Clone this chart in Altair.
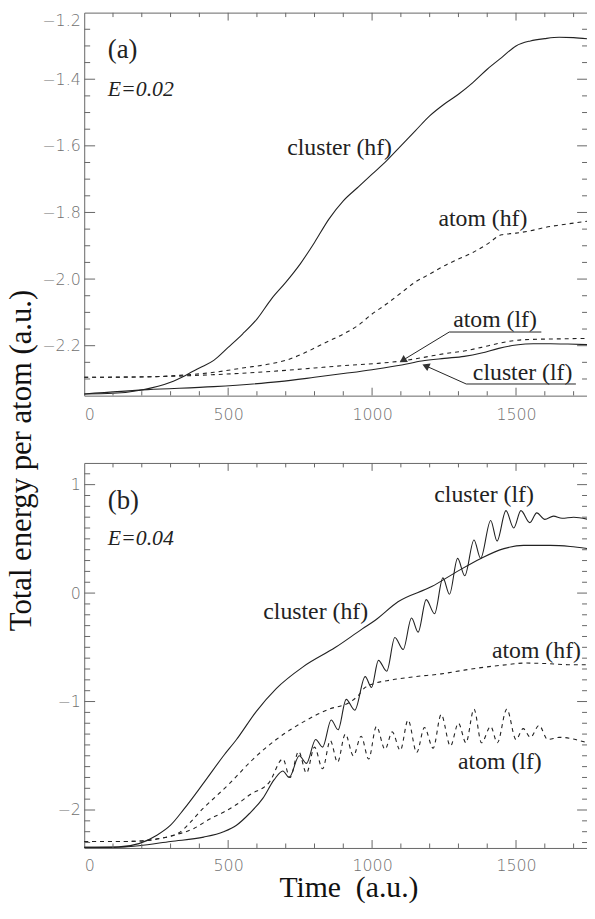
import altair as alt
import pandas as pd

# ------------------------------------------------------------------
# Data (time in a.u., energy per atom in a.u.)
# ------------------------------------------------------------------
# Panel (a): E = 0.02
a_cluster_hf_t = [0, 100, 200, 300, 350, 400, 450, 500, 550, 600, 650, 700, 750, 800, 850, 900,
                  950, 1000, 1050, 1100, 1150, 1200, 1250, 1300, 1350, 1400, 1450, 1500, 1550,
                  1600, 1650, 1700, 1750]
a_cluster_hf_E = [-2.345, -2.343, -2.333, -2.31, -2.29, -2.267, -2.244, -2.205, -2.165, -2.12,
                  -2.06, -2.01, -1.955, -1.89, -1.82, -1.765, -1.725, -1.685, -1.645, -1.60,
                  -1.555, -1.51, -1.475, -1.445, -1.41, -1.37, -1.335, -1.30, -1.285, -1.278,
                  -1.274, -1.275, -1.279]

a_atom_hf_t = [0, 200, 350, 450, 550, 650, 700, 760, 830, 900, 950, 1000, 1050, 1100, 1150, 1200,
               1260, 1300, 1350, 1400, 1450, 1500, 1550, 1600, 1650, 1700, 1750]
a_atom_hf_E = [-2.295, -2.294, -2.288, -2.28, -2.267, -2.254, -2.244, -2.224, -2.194, -2.165,
               -2.14, -2.105, -2.075, -2.042, -2.009, -1.985, -1.956, -1.94, -1.92, -1.895,
               -1.867, -1.862, -1.855, -1.845, -1.838, -1.832, -1.826]

a_atom_lf_t = [0, 300, 450, 564, 700, 800, 900, 1021, 1103, 1180, 1251, 1320, 1380, 1440, 1500,
               1560, 1620, 1750]
a_atom_lf_E = [-2.295, -2.292, -2.287, -2.282, -2.274, -2.267, -2.26, -2.253, -2.246, -2.235,
               -2.224, -2.216, -2.205, -2.193, -2.184, -2.181, -2.18, -2.178]

a_cluster_lf_t = [0, 220, 450, 677, 800, 907, 1000, 1103, 1172, 1251, 1320, 1380, 1440, 1500,
                  1560, 1620, 1680, 1750]
a_cluster_lf_E = [-2.345, -2.332, -2.323, -2.308, -2.295, -2.283, -2.272, -2.258, -2.246, -2.238,
                  -2.232, -2.222, -2.208, -2.198, -2.194, -2.194, -2.195, -2.197]

# Panel (b): E = 0.04
b_cluster_hf_t = [0, 120, 190, 254, 300, 347, 415, 484, 529, 598, 667, 760, 873, 966, 1011, 1090,
                  1207, 1296, 1378, 1458, 1526, 1619, 1688, 1750]
b_cluster_hf_E = [-2.345, -2.34, -2.31, -2.23, -2.14, -1.99, -1.75, -1.50, -1.35, -1.09, -0.88,
                  -0.68, -0.50, -0.33, -0.25, -0.08, 0.06, 0.20, 0.32, 0.41, 0.44, 0.44, 0.43, 0.41]

b_atom_hf_t = [0, 150, 220, 270, 323, 415, 507, 587, 667, 760, 851, 920, 950, 976, 1000, 1069,
               1150, 1241, 1320, 1400, 1468, 1530, 1606, 1680, 1750]
b_atom_hf_E = [-2.29, -2.29, -2.28, -2.26, -2.22, -1.98, -1.75, -1.53, -1.35, -1.19, -1.07,
               -1.01, -0.95, -0.87, -0.84, -0.80, -0.77, -0.745, -0.71, -0.68, -0.66, -0.645,
               -0.65, -0.66, -0.66]

b_atom_lf_t = [0, 150, 220, 300, 381, 438, 484, 529, 575, 644, 690, 715, 745, 772, 800, 828, 855,
               880, 907, 935, 962, 988, 1015, 1045, 1070, 1098, 1125, 1155, 1182, 1212, 1240,
               1272, 1300, 1326, 1354, 1380, 1412, 1435, 1468, 1500, 1525, 1550, 1580, 1610,
               1650, 1690, 1720, 1750]
b_atom_lf_E = [-2.29, -2.29, -2.28, -2.24, -2.17, -2.08, -2.02, -1.95, -1.86, -1.74, -1.53,
               -1.70, -1.46, -1.66, -1.42, -1.62, -1.36, -1.56, -1.30, -1.50, -1.32, -1.53,
               -1.23, -1.44, -1.28, -1.45, -1.17, -1.47, -1.24, -1.43, -1.12, -1.41, -1.20,
               -1.38, -1.07, -1.38, -1.23, -1.38, -1.07, -1.35, -1.25, -1.33, -1.22, -1.35,
               -1.33, -1.34, -1.36, -1.38]

b_cluster_lf_t = [0, 100, 190, 300, 415, 484, 529, 575, 621, 660, 690, 712, 747, 772, 804, 828,
                  858, 882, 910, 940, 976, 998, 1022, 1051, 1079, 1108, 1137, 1160, 1188, 1217,
                  1246, 1269, 1297, 1322, 1354, 1377, 1412, 1434, 1465, 1492, 1517, 1548, 1572,
                  1600, 1630, 1660, 1700, 1750]
b_cluster_lf_E = [-2.345, -2.345, -2.33, -2.29, -2.25, -2.20, -2.14, -2.03, -1.89, -1.72, -1.64,
                  -1.70, -1.50, -1.57, -1.35, -1.42, -1.17, -1.26, -0.98, -1.08, -0.77, -0.87,
                  -0.62, -0.72, -0.41, -0.52, -0.23, -0.36, -0.06, -0.19, 0.14, -0.01, 0.32,
                  0.16, 0.49, 0.32, 0.67, 0.48, 0.76, 0.60, 0.76, 0.65, 0.74, 0.68, 0.71, 0.69,
                  0.70, 0.68]

# Axis ranges and tick values
x_domain = [0, 1750]
ya_domain = [-2.35, -1.2]
yb_domain = [-2.35, 1.2]
x_major = [500, 1000, 1500]
x_minor = [100, 200, 300, 400, 600, 700, 800, 900, 1100, 1200, 1300, 1400, 1600, 1700]
x_labels = [0, 500, 1000, 1500]
ya_major = [-2.2, -2.0, -1.8, -1.6, -1.4]
ya_labels = [-2.2, -2.0, -1.8, -1.6, -1.4, -1.2]
ya_minor = [-2.30, -2.25, -2.15, -2.10, -2.05, -1.95, -1.90, -1.85, -1.75, -1.70, -1.65,
            -1.55, -1.50, -1.45, -1.35, -1.30, -1.25]
yb_major = [-2, -1, 0, 1]
yb_minor = [-2.3, -2.2, -2.1, -1.9, -1.8, -1.7, -1.6, -1.5, -1.4, -1.3, -1.2, -1.1,
            -0.9, -0.8, -0.7, -0.6, -0.5, -0.4, -0.3, -0.2, -0.1,
            0.1, 0.2, 0.3, 0.4, 0.5, 0.6, 0.7, 0.8, 0.9, 1.1]

# Curve labels (anchor in data coordinates)
a_lab_text = ["cluster (hf)", "atom (hf)", "atom (lf)", "cluster (lf)"]
a_lab_t = [887, 1385, 1427, 1523]
a_lab_E = [-1.606, -1.82, -2.124, -2.282]
b_lab_text = ["cluster (lf)", "cluster (hf)", "atom (hf)", "atom (lf)"]
b_lab_t = [1389, 804, 1571, 1444]
b_lab_E = [0.90, -0.173, -0.536, -1.555]

# Underline + arrow of the (lf) labels in panel (a)
a_ul_t = [1268, 1327]
a_ul_t2 = [1588, 1708]
a_ul_E = [-2.159, -2.315]
a_arrow_tip_t = [1110, 1190]
a_arrow_tip_E = [-2.242, -2.262]
a_arrow_angle = [238, 294]

# ------------------------------------------------------------------
W = 509
HA = 387
HB = 389
INK = "#222222"
TICK = "#666666"
SERIF = "Liberation Serif"

xs = alt.Scale(domain=x_domain, nice=False, zero=False)
ysa = alt.Scale(domain=ya_domain, nice=False, zero=False)
ysb = alt.Scale(domain=yb_domain, nice=False, zero=False)


def curve(t, e, xaxis, yaxis, ysc, dashed=False):
    kw = dict(color=INK, strokeWidth=1.1, interpolate="monotone", clip=True)
    if dashed:
        kw["strokeDash"] = [4, 4]
    return alt.Chart(pd.DataFrame({"t": t, "E": e})).mark_line(**kw).encode(
        x=alt.X("t:Q", scale=xs, axis=xaxis),
        y=alt.Y("E:Q", scale=ysc, axis=yaxis),
    )


def tick_layers(xaxis, yaxis, ysc, h, y_major, y_minor):
    layers = []
    # x ticks bottom and top (drawn inward)
    for vals, ln in ((x_major, 8), (x_minor, 4.5)):
        d = pd.DataFrame({"t": vals})
        base = alt.Chart(d).mark_rule(color=TICK, strokeWidth=1, clip=True)
        layers.append(base.encode(x=alt.X("t:Q", scale=xs, axis=xaxis),
                                  y=alt.value(h), y2=alt.value(h - ln)))
        layers.append(base.encode(x=alt.X("t:Q", scale=xs, axis=xaxis),
                                  y=alt.value(0), y2=alt.value(ln)))
    # y ticks left and right (drawn inward)
    for vals, ln in ((y_major, 11), (y_minor, 6)):
        d = pd.DataFrame({"E": vals})
        base = alt.Chart(d).mark_rule(color=TICK, strokeWidth=1, clip=True)
        layers.append(base.encode(y=alt.Y("E:Q", scale=ysc, axis=yaxis),
                                  x=alt.value(0), x2=alt.value(ln)))
        layers.append(base.encode(y=alt.Y("E:Q", scale=ysc, axis=yaxis),
                                  x=alt.value(W), x2=alt.value(W - ln)))
    return layers


def text_layer(texts, ts, es, xaxis, yaxis, ysc, size, align="center", italic=False):
    kw = dict(font=SERIF, fontSize=size, color=INK, align=align, baseline="middle", clip=True)
    if italic:
        kw["fontStyle"] = "italic"
    return alt.Chart(pd.DataFrame({"t": ts, "E": es, "txt": texts})).mark_text(**kw).encode(
        x=alt.X("t:Q", scale=xs, axis=xaxis),
        y=alt.Y("E:Q", scale=ysc, axis=yaxis),
        text="txt:N",
    )


# ---------------- panel (a) ----------------
xa_axis = alt.Axis(values=x_labels, format="d", labelPadding=11, title=None)
ya_axis = alt.Axis(values=ya_labels, format=".1f", labelFlush=True, labelPadding=4,
                   title="Total energy per atom (a.u.)", titleFont=SERIF, titleFontSize=31,
                   titleFontWeight="normal", titleColor="#111111", titleX=-54, titleY=452,
                   titleAlign="center", titleBaseline="alphabetic")

a_layers = [
    curve(a_cluster_hf_t, a_cluster_hf_E, xa_axis, ya_axis, ysa),
    curve(a_atom_hf_t, a_atom_hf_E, xa_axis, ya_axis, ysa, dashed=True),
    curve(a_atom_lf_t, a_atom_lf_E, xa_axis, ya_axis, ysa, dashed=True),
    curve(a_cluster_lf_t, a_cluster_lf_E, xa_axis, ya_axis, ysa),
]
a_layers += tick_layers(xa_axis, ya_axis, ysa, HA, ya_major, ya_minor)
a_layers.append(text_layer(["(a)"], [82], [-1.312], xa_axis, ya_axis, ysa, 27, align="left"))
a_layers.append(text_layer(["E=0.02"], [82], [-1.43], xa_axis, ya_axis, ysa, 22,
                           align="left", italic=True))
a_layers.append(text_layer(a_lab_text, a_lab_t, a_lab_E, xa_axis, ya_axis, ysa, 24))

ul = pd.DataFrame({"t": a_ul_t, "t2": a_ul_t2, "E": a_ul_E,
                   "tt": a_arrow_tip_t, "te": a_arrow_tip_E, "ang": a_arrow_angle})
a_layers.append(alt.Chart(ul).mark_rule(color=INK, strokeWidth=1, clip=True).encode(
    x=alt.X("t:Q", scale=xs, axis=xa_axis), x2="t2:Q",
    y=alt.Y("E:Q", scale=ysa, axis=ya_axis)))
a_layers.append(alt.Chart(ul).mark_rule(color=INK, strokeWidth=1, clip=True).encode(
    x=alt.X("t:Q", scale=xs, axis=xa_axis), x2="tt:Q",
    y=alt.Y("E:Q", scale=ysa, axis=ya_axis), y2="te:Q"))
a_layers.append(alt.Chart(ul).mark_point(shape="triangle", filled=True, color="#333333",
                                         size=70, opacity=1, clip=True).encode(
    x=alt.X("tt:Q", scale=xs, axis=xa_axis),
    y=alt.Y("te:Q", scale=ysa, axis=ya_axis),
    angle=alt.Angle("ang:Q", scale=None)))

panel_a = alt.layer(*a_layers).properties(width=W, height=HA)

# ---------------- panel (b) ----------------
xb_axis = alt.Axis(values=x_labels, format="d", labelPadding=10,
                   title="Time\u00a0\u00a0(a.u.)", titleFont=SERIF, titleFontSize=30,
                   titleFontWeight="normal", titleColor="#111111", titleX=267, titleY=49,
                   titleAlign="center", titleBaseline="alphabetic")
yb_axis = alt.Axis(values=yb_major, format="d", labelPadding=4, title=None)

b_layers = [
    curve(b_cluster_hf_t, b_cluster_hf_E, xb_axis, yb_axis, ysb),
    curve(b_atom_hf_t, b_atom_hf_E, xb_axis, yb_axis, ysb, dashed=True),
    curve(b_atom_lf_t, b_atom_lf_E, xb_axis, yb_axis, ysb, dashed=True),
    curve(b_cluster_lf_t, b_cluster_lf_E, xb_axis, yb_axis, ysb),
]
b_layers += tick_layers(xb_axis, yb_axis, ysb, HB, yb_major, yb_minor)
b_layers.append(text_layer(["(b)"], [82], [0.845], xb_axis, yb_axis, ysb, 27, align="left"))
b_layers.append(text_layer(["E=0.04"], [82], [0.509], xb_axis, yb_axis, ysb, 22,
                           align="left", italic=True))
b_layers.append(text_layer(b_lab_text, b_lab_t, b_lab_E, xb_axis, yb_axis, ysb, 24))

panel_b = alt.layer(*b_layers).properties(width=W, height=HB)

chart = alt.vconcat(
    panel_a, panel_b, spacing=68, bounds="flush",
    padding={"left": -3, "top": -1, "right": -2, "bottom": 0},
).configure_view(stroke=TICK, strokeWidth=1).configure_axis(
    labelFont="DejaVu Sans", labelFontSize=16, labelColor="#707070", labelFontWeight=200,
    grid=False, domain=False, ticks=False, tickSize=0,
)

chart.save("out.html", embed_options={"renderer": "svg", "actions": False})
